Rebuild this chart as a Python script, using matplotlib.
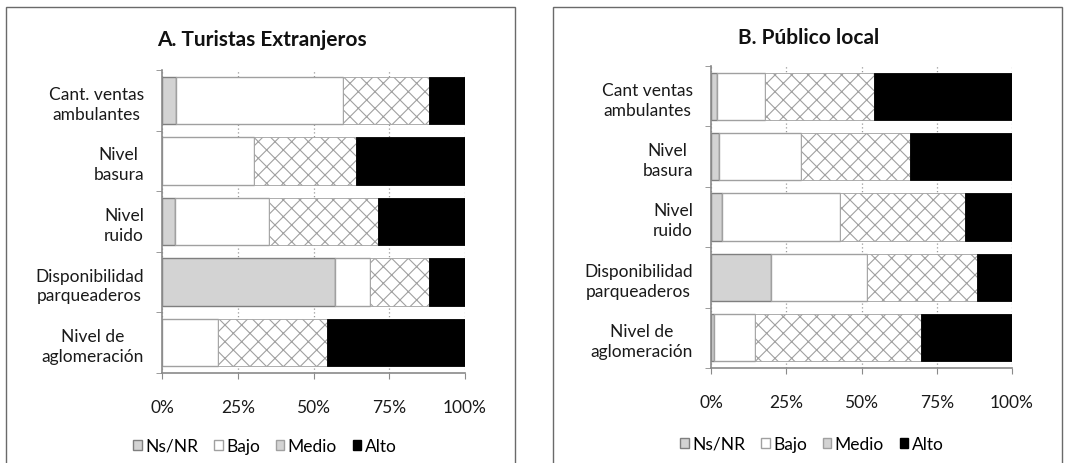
import matplotlib
matplotlib.use("Agg")
import matplotlib.pyplot as plt
from matplotlib.patches import Patch, Rectangle
import numpy as np

plt.rcParams['font.family'] = ['Lato', 'DejaVu Sans']
plt.rcParams['hatch.color'] = '#555555'
plt.rcParams['hatch.linewidth'] = 0.8

## Data (percent)
series = ["Ns/NR", "Bajo", "Medio", "Alto"]

cats_a = ["Cant. ventas\nambulantes", "Nivel\nbasura", "Nivel\nruido",
          "Disponibilidad\nparqueaderos", "Nivel de\naglomeración"]
nsnr_a = [4.7, 0.0, 4.3, 57.0, 0.0]
bajo_a = [54.9, 30.3, 31.1, 11.8, 18.4]
medio_a = [28.6, 33.6, 35.9, 19.2, 36.1]
alto_a = [11.8, 36.1, 28.7, 12.0, 45.5]

cats_b = ["Cant ventas\nambulantes", "Nivel\nbasura", "Nivel\nruido",
          "Disponibilidad\nparqueaderos", "Nivel de\naglomeración"]
nsnr_b = [2.0, 2.6, 3.7, 19.9, 0.9]
bajo_b = [15.8, 27.2, 39.2, 32.0, 13.8]
medio_b = [36.4, 36.2, 41.4, 36.4, 55.2]
alto_b = [45.8, 34.0, 15.7, 11.7, 30.1]

ticks = [0, 25, 50, 75, 100]
tick_labels = ["0%", "25%", "50%", "75%", "100%"]

W, H = 1065, 464
fig = plt.figure(figsize=(W / 100, H / 100), dpi=100)

gray = '#8a8a8a'
txt = '#1a1a1a'
styles = [
    dict(color='#d3d3d3', edgecolor='#7f7f7f', linewidth=1.0),
    dict(color='white', edgecolor='#a0a0a0', linewidth=1.0),
    dict(color='white', edgecolor='#a0a0a0', linewidth=0.6, hatch='xx'),
    dict(color='black', edgecolor='black', linewidth=0.6),
]


def px_axes(x0, y0, x1, y1):
    return fig.add_axes([x0 / W, 1 - y1 / H, (x1 - x0) / W, (y1 - y0) / H])


def draw_panel(ax, cats, data, title, title_xy, legend_xy):
    y = np.arange(len(cats))
    left = np.zeros(len(cats))
    for vals, st in zip(data, styles):
        ax.barh(y, vals, left=left, height=0.78, zorder=2, **st)
        left = left + np.array(vals)

    ax.set_xlim(0, 100)
    ax.set_ylim(len(cats) - 0.5, -0.5)
    ax.set_xticks(ticks)
    ax.set_xticklabels(tick_labels, fontsize=12.5, color=txt)
    ax.set_yticks(y)
    ax.set_yticklabels(cats, fontsize=12.5, color=txt, linespacing=1.3)
    for lab in ax.get_yticklabels():
        lab.set_multialignment('center')
    ax.set_yticks(np.arange(len(cats) + 1) - 0.5, minor=True)
    ax.tick_params(axis='y', which='major', length=0, pad=13)
    ax.tick_params(axis='y', which='minor', length=4, color=gray, direction='out')
    ax.tick_params(axis='x', length=4, color=gray, pad=15)

    ax.xaxis.grid(True, linestyle=(0, (1, 2)), color='#9a9a9a', linewidth=0.9)
    ax.set_axisbelow(True)
    for s in ['top', 'right']:
        ax.spines[s].set_visible(False)
    for s in ['left', 'bottom']:
        ax.spines[s].set_color(gray)
        ax.spines[s].set_linewidth(1.2)

    fig.text(title_xy[0] / W, 1 - title_xy[1] / H, title, ha='center', va='center',
             fontsize=15, fontweight='bold', color='#111111')

    handles = [Patch(facecolor='#d3d3d3', edgecolor='#7f7f7f'),
               Patch(facecolor='white', edgecolor='#a0a0a0'),
               Patch(facecolor='#d3d3d3', edgecolor='#a0a0a0'),
               Patch(facecolor='black', edgecolor='black')]
    fig.legend(handles, series, loc='center', ncol=4, frameon=False,
               bbox_to_anchor=(legend_xy[0] / W, 1 - legend_xy[1] / H),
               handlelength=0.5, handleheight=0.5, handletextpad=0.2,
               columnspacing=0.9, fontsize=12.5, borderaxespad=0)


## Panel borders
fig.add_artist(Rectangle((6 / W, -0.05), (515 - 6) / W, (H - 8) / H + 0.05,
                         transform=fig.transFigure, fill=False, edgecolor='#6a6a6a', linewidth=1.0))
fig.add_artist(Rectangle((553 / W, -0.05), (1062 - 553) / W, (H - 8) / H + 0.05,
                         transform=fig.transFigure, fill=False, edgecolor='#6a6a6a', linewidth=1.0))

ax_a = px_axes(162, 71, 465, 374)
draw_panel(ax_a, cats_a, [nsnr_a, bajo_a, medio_a, alto_a],
           "A. Turistas Extranjeros", (262, 40), (265, 447))

ax_b = px_axes(711, 67, 1012, 369)
draw_panel(ax_b, cats_b, [nsnr_b, bajo_b, medio_b, alto_b],
           "B. Público local", (809, 38), (812, 445))

fig.savefig("out.png", dpi=100)
